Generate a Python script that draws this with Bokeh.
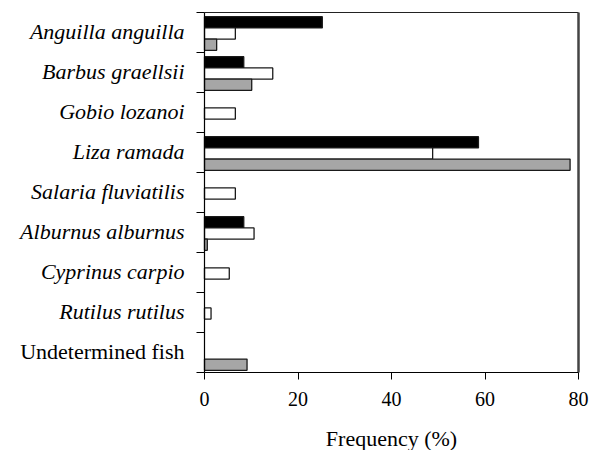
from bokeh.plotting import figure
from bokeh.models import Range1d, FixedTicker, ColumnDataSource
from bokeh.core.properties import value
from bokeh.embed import file_html
from bokeh.resources import INLINE

species = ["Anguilla anguilla", "Barbus graellsii", "Gobio lozanoi", "Liza ramada",
           "Salaria fluviatilis", "Alburnus alburnus", "Cyprinus carpio",
           "Rutilus rutilus", "Undetermined fish"]
label_style = ["italic"] * 8 + ["normal"]
black_vals = [25.2, 8.4, 0, 58.6, 0, 8.4, 0, 0, 0]
white_vals = [6.6, 14.6, 6.6, 48.8, 6.6, 10.6, 5.3, 1.4, 0]
gray_vals = [2.6, 10.1, 0, 78.2, 0, 0.6, 0, 0, 9.1]
x_ticks = [0, 20, 40, 60, 80]
x_label = "Frequency (%)"

n = len(species)
XMAX = 80
FONT = "Liberation Serif"

W, H = 595, 450
kx = 374 / XMAX
ky = 40.0
left_px, top_px = 204, 12
x_start = -left_px / kx
x_end = XMAX + (W - left_px - 374) / kx
y_end = n + top_px / ky
y_start = n - (H - top_px) / ky

p = figure(width=W, height=H, output_backend="svg", toolbar_location=None,
           x_range=Range1d(x_start, x_end), y_range=Range1d(y_start, y_end),
           min_border=0)
p.grid.visible = False
p.outline_line_color = None

bar_h = 0.28
offsets = [0.245, 0.525, 0.805]
series = [(black_vals, "black"), (white_vals, "white"), (gray_vals, "#a6a6a6")]
for (vals, col), off in zip(series, offsets):
    ys, ws = [], []
    for i, v in enumerate(vals):
        if v > 0:
            ys.append(n - i - off)
            ws.append(v)
    src = ColumnDataSource(dict(y=ys, right=ws))
    p.hbar(y="y", left=0, right="right", height=bar_h, source=src,
           fill_color=col, line_color="#1a1a1a", line_width=1.3)

p.segment(x0=[0], y0=[n], x1=[XMAX], y1=[n], line_color="#222222", line_width=1)
p.segment(x0=[XMAX], y0=[0], x1=[XMAX], y1=[n], line_color="#444444", line_width=2.5)

xa = p.xaxis[0]
xa.fixed_location = 0
xa.bounds = (0, XMAX)
xa.ticker = FixedTicker(ticks=x_ticks, minor_ticks=[])
xa.major_tick_out = 7
xa.major_tick_in = 0
xa.major_label_text_font = FONT
xa.major_label_text_font_size = "20px"
xa.major_label_text_color = "black"
xa.major_label_standoff = 12
xa.axis_line_color = "black"
xa.axis_line_width = 1.2
xa.major_tick_line_color = "black"

ya = p.yaxis[0]
ya.fixed_location = 0
ya.bounds = (0, n)
ya.ticker = FixedTicker(ticks=list(range(n + 1)), minor_ticks=[])
ya.major_tick_out = 8
ya.major_tick_in = 0
ya.major_label_text_font_size = "0px"
ya.major_label_text_alpha = 0
ya.axis_line_color = "black"
ya.axis_line_width = 1.2
ya.major_tick_line_color = "black"

lab = ColumnDataSource(dict(x=[0] * n, y=[n - i - 0.5 for i in range(n)],
                            text=species, style=label_style))
p.text(x="x", y="y", text="text", source=lab, x_offset=-20, y_offset=-1,
       text_align="right", text_baseline="middle",
       text_font=value(FONT), text_font_size="22px",
       text_font_style="style", text_color="black")

p.text(x=[XMAX / 2], y=[-66 / ky], text=[x_label], text_align="center",
       text_baseline="middle", text_font=value(FONT), text_font_size="22px",
       text_color="black")

open("out.html", "w").write(file_html(p, INLINE))
